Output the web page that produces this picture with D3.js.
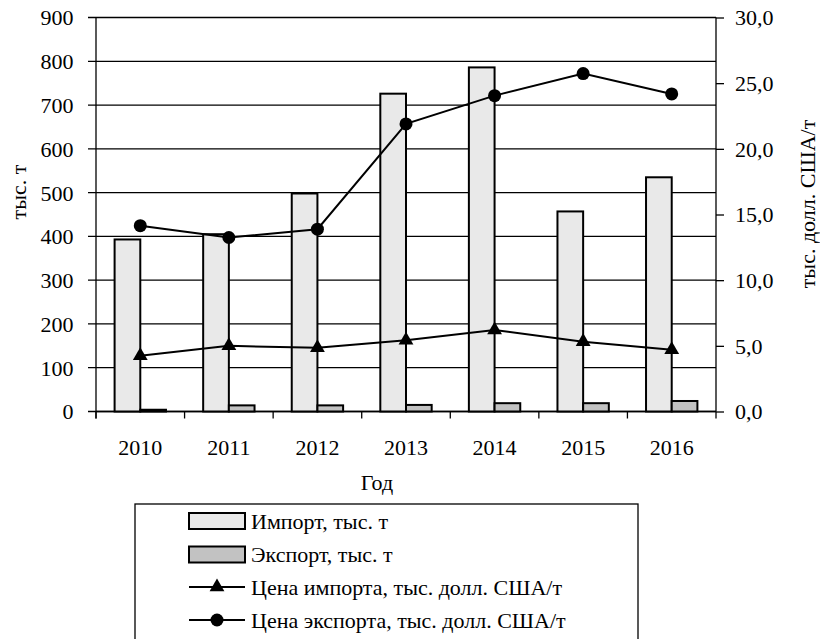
<!DOCTYPE html>
<html>
<head>
<meta charset="utf-8">
<script src="https://cdn.jsdelivr.net/npm/d3@7"></script>
<style>
  html, body { margin: 0; padding: 0; background: #fff; }
</style>
</head>
<body>
<svg id="chart" width="820" height="639" font-family="Liberation Serif" font-size="22"></svg>
<script>
// Years on the category axis
const years = ["2010", "2011", "2012", "2013", "2014", "2015", "2016"];
// Volumes, thousand tonnes (left axis)
const importVolume = [393, 405, 498, 726, 786, 457, 535];
const exportVolume = [4, 14, 14, 15, 19, 19, 24];
// Prices, thousand USD per tonne (right axis)
const importPrice = [4.25, 5.0, 4.85, 5.42, 6.2, 5.32, 4.7];
const exportPrice = [14.15, 13.25, 13.88, 21.9, 24.05, 25.73, 24.18];
// Axis ticks
const leftTicks = [0, 100, 200, 300, 400, 500, 600, 700, 800, 900];
const rightTicks = [0, 5, 10, 15, 20, 25, 30];
// Legend entries
const legendLabels = [
  "Импорт, тыс. т",
  "Экспорт, тыс. т",
  "Цена импорта, тыс. долл. США/т",
  "Цена экспорта, тыс. долл. США/т"
];

const svg = d3.select("#chart");
const plot = { left: 96, right: 716, top: 17.5, bottom: 411.5 };
const importFill = "#e9e9e9";
const exportFill = "#c2c2c2";

const x = d3.scaleBand().domain(years).range([plot.left, plot.right]).padding(0);
const yL = d3.scaleLinear().domain([0, 900]).range([plot.bottom, plot.top]);
const yR = d3.scaleLinear().domain([0, 30]).range([plot.bottom, plot.top]);
const barW = x.bandwidth() * 0.29;
const cx = d => x(d) + x.bandwidth() / 2;
const styleText = sel => sel.attr("font-family", "Liberation Serif").attr("font-size", 22).attr("fill", "#000");

// Horizontal gridlines
svg.append("g").selectAll("line").data(leftTicks).join("line")
  .attr("x1", plot.left - 8).attr("x2", plot.right)
  .attr("y1", d => yL(d)).attr("y2", d => yL(d))
  .attr("stroke", "#000").attr("stroke-width", 1.3);

// Left axis
const axL = svg.append("g").attr("transform", `translate(${plot.left},0)`)
  .call(d3.axisLeft(yL).tickValues(leftTicks).tickSize(8).tickPadding(14.5));
axL.attr("font-family", "Liberation Serif").attr("font-size", 22);
axL.select(".domain").remove();
axL.selectAll("line").remove();
axL.selectAll("text").call(styleText).attr("dy", "0.34em");
svg.append("line").attr("x1", plot.left).attr("x2", plot.left)
  .attr("y1", plot.top).attr("y2", plot.bottom + 7)
  .attr("stroke", "#000").attr("stroke-width", 1.3);

// Right axis
const fmtR = v => d3.format(".1f")(v).replace(".", ",");
const axR = svg.append("g").attr("transform", `translate(${plot.right},0)`)
  .call(d3.axisRight(yR).tickValues(rightTicks).tickSize(8).tickPadding(11).tickFormat(fmtR));
axR.attr("font-family", "Liberation Serif").attr("font-size", 22);
axR.select(".domain").attr("d", `M0,${plot.top}V${plot.bottom}`)
  .attr("stroke", "#000").attr("stroke-width", 1.3);
axR.selectAll("line").attr("stroke", "#000").attr("stroke-width", 1.3);
axR.selectAll("text").call(styleText).attr("dy", "0.34em");

// Bottom axis with ticks between categories
const boundaries = years.map(d => x(d)).concat([plot.right]);
svg.append("g").selectAll("line").data(boundaries).join("line")
  .attr("x1", d => d).attr("x2", d => d)
  .attr("y1", plot.bottom).attr("y2", plot.bottom + 7)
  .attr("stroke", "#000").attr("stroke-width", 1.3);
svg.append("line").attr("x1", plot.left).attr("x2", plot.right)
  .attr("y1", plot.bottom).attr("y2", plot.bottom)
  .attr("stroke", "#000").attr("stroke-width", 1.3);
svg.append("g").selectAll("text").data(years).join("text")
  .attr("x", d => cx(d)).attr("y", 455)
  .attr("text-anchor", "middle").call(styleText).text(d => d);

// Bars
svg.append("g").selectAll("rect").data(years).join("rect")
  .attr("x", d => cx(d) - barW).attr("width", barW)
  .attr("y", (d, i) => yL(importVolume[i]))
  .attr("height", (d, i) => plot.bottom - yL(importVolume[i]))
  .attr("fill", importFill).attr("stroke", "#000").attr("stroke-width", 2);
svg.append("g").selectAll("rect").data(years).join("rect")
  .attr("x", d => cx(d)).attr("width", barW)
  .attr("y", (d, i) => yL(exportVolume[i]))
  .attr("height", (d, i) => plot.bottom - yL(exportVolume[i]))
  .attr("fill", exportFill).attr("stroke", "#000").attr("stroke-width", 2);

// Price lines
const lineR = d3.line().x((d, i) => cx(years[i])).y(d => yR(d));
svg.append("path").datum(importPrice).attr("d", lineR)
  .attr("fill", "none").attr("stroke", "#000").attr("stroke-width", 2);
svg.append("path").datum(exportPrice).attr("d", lineR)
  .attr("fill", "none").attr("stroke", "#000").attr("stroke-width", 2);

const triangle = d3.symbol().type(d3.symbolTriangle).size(95);
svg.append("g").selectAll("path").data(importPrice).join("path")
  .attr("transform", (d, i) => `translate(${cx(years[i])},${yR(d)})`)
  .attr("d", triangle).attr("fill", "#000");
svg.append("g").selectAll("circle").data(exportPrice).join("circle")
  .attr("cx", (d, i) => cx(years[i])).attr("cy", d => yR(d))
  .attr("r", 6.5).attr("fill", "#000");

// Axis titles
svg.append("text").attr("transform", "translate(26,192) rotate(-90)")
  .attr("text-anchor", "middle").call(styleText).text("тыс. т");
svg.append("text").attr("transform", "translate(815,204) rotate(-90)")
  .attr("text-anchor", "middle").call(styleText).text("тыс. долл. США/т");
svg.append("text").attr("x", 377).attr("y", 490)
  .attr("text-anchor", "middle").call(styleText).text("Год");

// Legend
const lg = svg.append("g");
lg.append("rect").attr("x", 135).attr("y", 504).attr("width", 503).attr("height", 150)
  .attr("fill", "#fff").attr("stroke", "#000").attr("stroke-width", 1.3);
const rowY = [521, 554.5, 587, 620];
const swX = 189, swW = 56;
lg.selectAll("rect.sw").data([0, 1]).join("rect").attr("class", "sw")
  .attr("x", swX).attr("width", swW)
  .attr("y", i => rowY[i] - 8).attr("height", 16)
  .attr("fill", i => i === 0 ? importFill : exportFill)
  .attr("stroke", "#000").attr("stroke-width", 2);
lg.selectAll("line.sw").data([2, 3]).join("line").attr("class", "sw")
  .attr("x1", swX).attr("x2", swX + swW)
  .attr("y1", i => rowY[i]).attr("y2", i => rowY[i])
  .attr("stroke", "#000").attr("stroke-width", 2);
lg.append("path").attr("transform", `translate(${swX + swW / 2},${rowY[2]})`)
  .attr("d", triangle).attr("fill", "#000");
lg.append("circle").attr("cx", swX + swW / 2).attr("cy", rowY[3]).attr("r", 6.5).attr("fill", "#000");
lg.selectAll("text.lab").data(legendLabels).join("text").attr("class", "lab")
  .attr("x", 251).attr("y", (d, i) => rowY[i]).attr("dy", "0.35em")
  .call(styleText).text(d => d);
</script>
</body>
</html>
